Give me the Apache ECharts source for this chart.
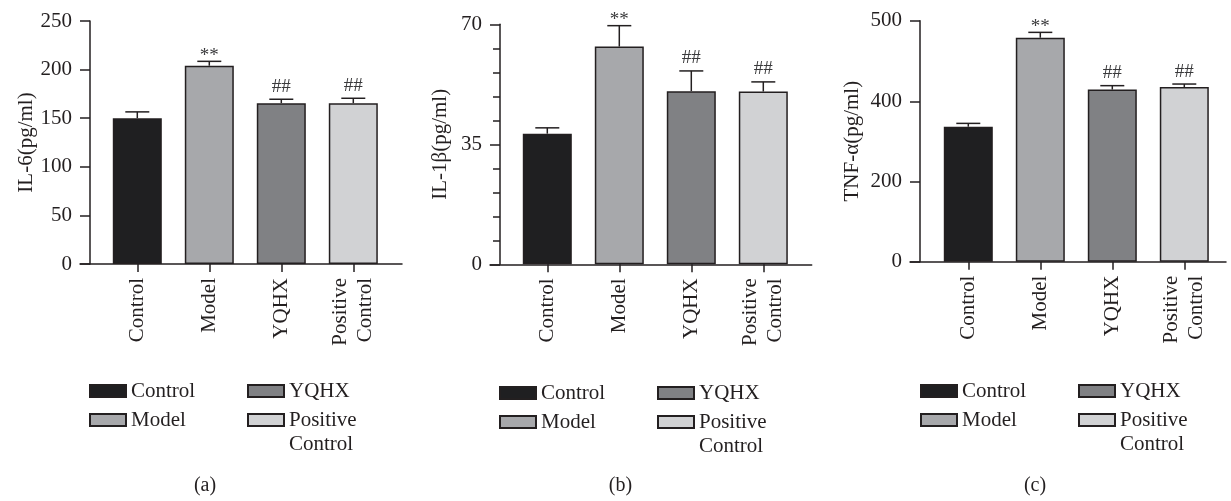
<!DOCTYPE html>
<html><head><meta charset="utf-8">
<script src="https://cdn.jsdelivr.net/npm/echarts@6/dist/echarts.min.js"></script>
<style>html,body{margin:0;padding:0;background:#fff}#c{width:1231px;height:501px}</style>
</head><body><div id="c"></div>
<script>
// ---------- data ----------
const groups = ['Control', 'Model', 'YQHX', 'Positive Control'];
const axisCats = ['Control', 'Model', 'YQHX', 'Positive\nControl'];
const il6Mean = [150, 204, 165.5, 165.5];
const il6Err = [6.5, 4.5, 4, 5];
const il1bMean = [38.1, 63.5, 50.5, 50.4];
const il1bErr = [1.7, 6.1, 5.9, 2.8];
const tnfMean = [337.5, 479, 415, 418];
const tnfErr = [8.3, 6.6, 4.8, 3.8];
const marks = ['', '**', '##', '##'];
const il6Ticks = [0, 50, 100, 150, 200, 250];
const il1bTicks = [0, 35, 70];
const tnfTicks = [0, 200, 400, 500];
const yNames = ['IL-6(pg/ml)', 'IL-1\u03b2(pg/ml)', 'TNF-\u03b1(pg/ml)'];
const captions = ['(a)', '(b)', '(c)'];

// ---------- style / layout ----------
const FONT = '"Liberation Serif", "Times New Roman", serif';
const INK = '#231f20';
const colors = ['#1f1f21', '#a7a8ab', '#808184', '#d1d2d4'];
const FS = 21;

// segmented axis for TNF-a: upper segment (400-500) stretched
const SEG_AT = 400, SEG_K = 2.025;
const seg = v => v <= SEG_AT ? v : SEG_AT + (v - SEG_AT) * SEG_K;
const unseg = t => t <= SEG_AT ? t : SEG_AT + (t - SEG_AT) / SEG_K;

const panels = [
  { mean: il6Mean, err: il6Err, ticks: il6Ticks, map: v => v, unmap: v => v,
    xStart: 80, xEnd: 402, top: 21, bottom: 264, tick0: 137.3, nameGap: 52,
    lg1: 89, lg2: 247, lgTop: 385, capX: 205 },
  { mean: il1bMean, err: il1bErr, ticks: il1bTicks, map: v => v, unmap: v => v, minor: 5,
    xStart: 490, xEnd: 811.7, top: 24.3, bottom: 264.3, tick0: 547.3, nameGap: 49,
    lg1: 499, lg2: 657, lgTop: 387, capX: 620.5 },
  { mean: tnfMean, err: tnfErr, ticks: tnfTicks, map: seg, unmap: unseg,
    xStart: 910, xEnd: 1226, top: 20.7, bottom: 261.7, tick0: 968.3, nameGap: 57,
    lg1: 920, lg2: 1078, lgTop: 385, capX: 1035 }
];
const SPACING = 72;
const ROW = 29;

const grid = [], xAxis = [], yAxis = [], series = [], legend = [], title = [];

panels.forEach((p, k) => {
  grid.push({ left: p.xStart, top: p.top, width: p.xEnd - p.xStart, height: p.bottom - p.top,
              containLabel: false, outerBoundsMode: 'none' });
  const idx = [0, 1, 2, 3];
  xAxis.push({
    gridIndex: k, type: 'value',
    min: (p.xStart - p.tick0) / SPACING, max: (p.xEnd - p.tick0) / SPACING,
    axisLine: { show: true, onZero: false, lineStyle: { color: INK, width: 1.5 } },
    axisTick: { show: true, length: 8, customValues: idx, lineStyle: { color: INK, width: 1.5 } },
    axisLabel: { customValues: idx, rotate: 90, margin: 14, formatter: v => axisCats[Math.round(v)],
                 fontFamily: FONT, fontSize: FS, color: INK, lineHeight: 25 },
    splitLine: { show: false }
  });
  const tickVals = p.ticks.map(p.map);
  const ymax = tickVals[tickVals.length - 1];
  const ya = {
    gridIndex: k, type: 'value', min: 0, max: ymax, offset: -10,
    name: yNames[k], nameLocation: 'middle', nameGap: p.nameGap,
    nameTextStyle: { fontFamily: FONT, fontSize: FS, color: INK },
    axisLine: { show: true, onZero: false, lineStyle: { color: INK, width: 1.5 } },
    axisTick: { show: true, length: 10, customValues: tickVals, lineStyle: { color: INK, width: 1.5 } },
    axisLabel: { customValues: tickVals, margin: 18, formatter: v => String(Math.round(p.unmap(v))),
                 fontFamily: FONT, fontSize: FS, color: INK },
    splitLine: { show: false }
  };
  if (p.minor) {
    ya.minorTick = { show: true, splitNumber: p.minor, length: 7, lineStyle: { color: INK, width: 1.5 } };
    ya.interval = tickVals[1] - tickVals[0];
  }
  yAxis.push(ya);

  groups.forEach((g, i) => {
    series.push({
      type: 'bar', name: g, xAxisIndex: k, yAxisIndex: k,
      barWidth: 49, barGap: '-100%',
      data: [[i, p.map(p.mean[i])]],
      itemStyle: { color: colors[i], borderColor: INK, borderWidth: 1.5 },
      emphasis: { disabled: true }, silent: true
    });
  });

  series.push({
    type: 'custom', xAxisIndex: k, yAxisIndex: k, silent: true,
    encode: { x: 0, y: [1, 2] },
    data: p.mean.map((m, i) => [i, p.map(m), p.map(m + p.err[i]), i]),
    renderItem: (params, api) => {
      const i = api.value(0);
      const base = api.coord([i, api.value(1)]);
      const top = api.coord([i, api.value(2)]);
      const mk = marks[api.value(3)];
      const children = [
        { type: 'line', shape: { x1: base[0], y1: base[1], x2: top[0], y2: top[1] },
          style: { stroke: INK, lineWidth: 1.5 } },
        { type: 'line', shape: { x1: top[0] - 12, y1: top[1], x2: top[0] + 12, y2: top[1] },
          style: { stroke: INK, lineWidth: 1.5 } }
      ];
      if (mk) {
        const star = mk.indexOf('*') >= 0;
        children.push({ type: 'text', style: {
          text: mk, x: top[0], y: top[1] + (star ? 4 : -3),
          align: 'center', verticalAlign: 'bottom',
          font: '19px ' + FONT, fill: '#3a3a3c' } });
      }
      return { type: 'group', children };
    }
  });

  const lgBase = { orient: 'vertical', itemWidth: 36, itemHeight: 12, itemGap: ROW - 24, padding: 0,
                   selectedMode: false, icon: 'rect',
                   textStyle: { fontFamily: FONT, fontSize: FS, color: INK, lineHeight: 24 } };
  legend.push(Object.assign({}, lgBase, { left: p.lg1, top: p.lgTop - 6, data: [groups[0], groups[1]] }));
  legend.push(Object.assign({}, lgBase, { left: p.lg2, top: p.lgTop - 6, data: [groups[2]] }));
  // leading empty line keeps the first text line level with the swatch, second line hangs below
  legend.push(Object.assign({}, lgBase, { left: p.lg2, top: p.lgTop + ROW - 30, data: [groups[3]],
    formatter: n => '\n' + n.replace(' ', '\n') }));

  title.push({ text: captions[k], left: p.capX, top: 476, textAlign: 'center', padding: 0,
               textStyle: { fontFamily: FONT, fontSize: 20, fontWeight: 'normal', color: INK } });
});

const chart = echarts.init(document.getElementById('c'), null, { renderer: 'canvas' });
chart.setOption({ animation: false, backgroundColor: '#fff', grid, xAxis, yAxis, series, legend, title });
</script>
</body></html>
